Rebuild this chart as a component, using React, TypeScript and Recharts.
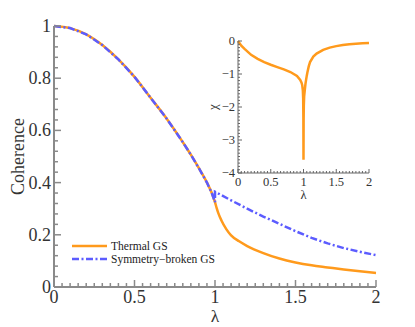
import { LineChart, Line, XAxis, YAxis, Legend } from 'recharts';

// coherence, identical for both ground states below the critical point
const lambdaBelow = [0, 0.1, 0.2, 0.3, 0.4, 0.5, 0.6, 0.7, 0.8, 0.85, 0.9, 0.95, 0.98, 1.0];
const coherenceBelow = [1.0, 0.992, 0.968, 0.927, 0.872, 0.805, 0.725, 0.645, 0.555, 0.507, 0.455, 0.4, 0.36, 0.325];

// above the critical point the two curves split
const lambdaThermalAbove = [1.01, 1.02, 1.04, 1.07, 1.1, 1.15, 1.2, 1.3, 1.4, 1.5, 1.6, 1.7, 1.8, 1.9, 2.0];
const thermalAbove = [0.303, 0.284, 0.255, 0.222, 0.198, 0.175, 0.157, 0.13, 0.109, 0.094, 0.083, 0.075, 0.067, 0.06, 0.054];
const lambdaBrokenAbove = [1.0, 1.1, 1.2, 1.3, 1.4, 1.5, 1.6, 1.7, 1.8, 1.9, 2.0];
const brokenAbove = [0.365, 0.332, 0.3, 0.27, 0.242, 0.214, 0.188, 0.167, 0.149, 0.135, 0.122];

// inset: chi vs lambda
const lambdaChi = [0, 0.05, 0.1, 0.2, 0.3, 0.4, 0.5, 0.6, 0.7, 0.8, 0.9, 0.95, 0.97, 0.98, 0.99, 0.995, 0.998, 1.0,
  1.002, 1.005, 1.01, 1.02, 1.03, 1.04, 1.05, 1.06, 1.08, 1.1, 1.15, 1.2, 1.3, 1.4, 1.5, 1.6, 1.7, 1.8, 1.9, 2.0];
const chiValues = [0, -0.14, -0.24, -0.42, -0.54, -0.64, -0.72, -0.79, -0.86, -0.94, -1.06, -1.18, -1.26, -1.33, -1.5, -1.75, -2.3, -3.6,
  -2.4, -1.95, -1.68, -1.48, -1.3, -1.17, -1.05, -0.95, -0.77, -0.64, -0.47, -0.38, -0.27, -0.2, -0.155, -0.12, -0.095, -0.08, -0.07, -0.06];

const mainXMajor = [0, 0.5, 1, 1.5, 2];
const mainYMajor = [0, 0.2, 0.4, 0.6, 0.8, 1];
const insetXMajor = [0, 0.5, 1, 1.5, 2];
const insetYMajor = [-4, -3, -2, -1, 0];

const seriesNames = ['Thermal GS', 'Symmetry\u2212broken GS'];

const ORANGE = '#ff9a1c';
const BLUE = '#5c5cff';
const BLUE_DASH = '7 2.5 2 2.5';
const FONT = '"Liberation Serif", "DejaVu Serif", serif';

const steps = (from: number, to: number, step: number) => {
  const out: number[] = [];
  const n = Math.round((to - from) / step);
  for (let i = 0; i <= n; i++) out.push(Math.round((from + i * step) * 1000) / 1000);
  return out;
};

const thermalData = [
  ...lambdaBelow.map((x, i) => ({ x, v: coherenceBelow[i] })),
  ...lambdaThermalAbove.map((x, i) => ({ x, v: thermalAbove[i] })),
];
const brokenData = [
  ...lambdaBelow.map((x, i) => ({ x, v: coherenceBelow[i] })),
  ...lambdaBrokenAbove.map((x, i) => ({ x, v: brokenAbove[i] })),
];
const chiData = lambdaChi.map((x, i) => ({ x, chi: chiValues[i] }));

type Side = 'bottom' | 'top' | 'left' | 'right';
interface TickOpts {
  major: number[];
  majorLen: number;
  minorLen: number;
  color: string;
  width: number;
  label?: boolean;
  offset?: number;
  fontSize?: number;
  fmt?: (v: number) => string;
}

const makeTick = (side: Side, o: TickOpts) => (props: any) => {
  const { x, y, payload } = props;
  const v = payload.value;
  const isMajor = o.major.some(m => Math.abs(m - v) < 1e-6);
  const len = isMajor ? o.majorLen : o.minorLen;
  let x2 = x, y2 = y;
  if (side === 'bottom') y2 = y - len;
  else if (side === 'top') y2 = y + len;
  else if (side === 'left') x2 = x + len;
  else x2 = x - len;
  const fs = o.fontSize || 12;
  const txt = o.fmt ? o.fmt(v) : String(v);
  return (
    <g>
      <line x1={x} y1={y} x2={x2} y2={y2} stroke={o.color} strokeWidth={o.width} />
      {o.label && isMajor && side === 'bottom' && (
        <text x={x} y={y + (o.offset || 0)} textAnchor="middle" fontSize={fs} fill="#333" fontFamily={FONT}>{txt}</text>
      )}
      {o.label && isMajor && side === 'left' && (
        <text x={x - (o.offset || 0)} y={y + fs * 0.33} textAnchor="end" fontSize={fs} fill="#333" fontFamily={FONT}>{txt}</text>
      )}
    </g>
  );
};

const renderLegend = () => (
  <svg width={160} height={30} style={{ overflow: 'visible' }}>
    <line x1={0} y1={6} x2={35} y2={6} stroke={ORANGE} strokeWidth={2.5} />
    <text x={39} y={10} fontSize={11.5} fill="#222" fontFamily={FONT}>{seriesNames[0]}</text>
    <line x1={0} y1={19} x2={35} y2={19} stroke={BLUE} strokeWidth={2.5} strokeDasharray={BLUE_DASH} />
    <text x={39} y={23} fontSize={11.5} fill="#222" fontFamily={FONT}>{seriesNames[1]}</text>
  </svg>
);

const AXIS = '#8a8a8a';
const INSET_AXIS = '#666';

export default function App() {
  const mainXTicks = steps(0, 2, 0.05);
  const mainYTicks = steps(0, 1, 0.04);
  const insetXTicks = steps(0, 2, 0.05);
  const insetYTicks = steps(-4, 0, 0.1);

  const mx = { major: mainXMajor, majorLen: 7, minorLen: 4, color: AXIS, width: 1.5 };
  const my = { major: mainYMajor, majorLen: 7, minorLen: 4, color: AXIS, width: 1.5 };
  const ix = { major: insetXMajor, majorLen: 4, minorLen: 2, color: INSET_AXIS, width: 1 };
  const iy = { major: insetYMajor, majorLen: 4, minorLen: 2, color: INSET_AXIS, width: 1 };

  return (
    <div style={{ position: 'absolute', left: 0, top: 0, width: 415, height: 327, background: '#fff', fontFamily: FONT }}>
      <LineChart width={415} height={327} margin={{ top: 26, right: 39, bottom: 10, left: 4 }}>
        <XAxis
          dataKey="x" type="number" domain={[0, 2]} ticks={mainXTicks} interval={0}
          height={30} tickSize={0} tickMargin={0} tickLine={false}
          axisLine={{ stroke: AXIS, strokeWidth: 2 }}
          tick={makeTick('bottom', { ...mx, label: true, offset: 16, fontSize: 18 })}
          label={{ value: '\u03bb', position: 'insideBottom', offset: -5, style: { fontSize: 17.5, fill: '#333', fontFamily: FONT } }}
        />
        <XAxis
          xAxisId="top" orientation="top" dataKey="x" type="number" domain={[0, 2]} ticks={mainXTicks} interval={0}
          height={0} tickSize={0} tickMargin={0} tickLine={false}
          axisLine={{ stroke: AXIS, strokeWidth: 2 }}
          tick={makeTick('top', mx)}
        />
        <YAxis
          type="number" domain={[0, 1]} ticks={mainYTicks} interval={0}
          width={50} tickSize={0} tickMargin={0} tickLine={false}
          axisLine={{ stroke: AXIS, strokeWidth: 2 }}
          tick={makeTick('left', { ...my, label: true, offset: 3, fontSize: 18 })}
          label={{ value: 'Coherence', angle: -90, position: 'insideLeft', offset: 14, style: { textAnchor: 'middle', fontSize: 18, fill: '#333', fontFamily: FONT } }}
        />
        <YAxis
          yAxisId="right" orientation="right" type="number" domain={[0, 1]} ticks={mainYTicks} interval={0}
          width={0} tickSize={0} tickMargin={0} tickLine={false}
          axisLine={{ stroke: AXIS, strokeWidth: 2 }}
          tick={makeTick('right', my)}
        />
        <Line data={thermalData} dataKey="v" name={seriesNames[0]} type="monotone" stroke={ORANGE} strokeWidth={2.5} dot={false} isAnimationActive={false} />
        <Line data={brokenData} dataKey="v" name={seriesNames[1]} type="linear" stroke={BLUE} strokeWidth={2.5} strokeDasharray={BLUE_DASH} dot={false} isAnimationActive={false} />
        <Legend layout="horizontal" verticalAlign="middle" align="center" content={renderLegend}
          wrapperStyle={{ left: 72, top: 240, width: 160, height: 30 }} />
      </LineChart>

      <div style={{ position: 'absolute', left: 200, top: 30 }}>
        <LineChart width={180} height={180} data={chiData} margin={{ top: 11, right: 11, bottom: 10, left: 0 }}>
          <XAxis
            dataKey="x" type="number" domain={[0, 2]} ticks={insetXTicks} interval={0}
            height={27} tickSize={0} tickMargin={0} tickLine={false}
            axisLine={{ stroke: INSET_AXIS, strokeWidth: 1 }}
            tick={makeTick('bottom', { ...ix, label: true, offset: 13, fontSize: 12.5 })}
            label={{ value: '\u03bb', position: 'insideBottom', offset: 1, style: { fontSize: 12.5, fill: '#333', fontFamily: FONT } }}
          />
          <XAxis
            xAxisId="top" orientation="top" dataKey="x" type="number" domain={[0, 2]} ticks={insetXTicks} interval={0}
            height={0} tickSize={0} tickMargin={0} tickLine={false}
            axisLine={{ stroke: INSET_AXIS, strokeWidth: 1 }}
            tick={makeTick('top', ix)}
          />
          <YAxis
            type="number" domain={[-4, 0]} ticks={insetYTicks} interval={0}
            width={38} tickSize={0} tickMargin={0} tickLine={false}
            axisLine={{ stroke: INSET_AXIS, strokeWidth: 1 }}
            tick={makeTick('left', { ...iy, label: true, offset: 3, fontSize: 12.5, fmt: (v: number) => (v < 0 ? '\u2212' + Math.abs(v) : String(v)) })}
            label={{ value: '\u03c7', angle: -90, position: 'insideLeft', offset: 12, style: { textAnchor: 'middle', fontSize: 13, fill: '#333', fontFamily: FONT } }}
          />
          <YAxis
            yAxisId="right" orientation="right" type="number" domain={[-4, 0]} ticks={insetYTicks} interval={0}
            width={0} tickSize={0} tickMargin={0} tickLine={false}
            axisLine={{ stroke: INSET_AXIS, strokeWidth: 1 }}
            tick={makeTick('right', iy)}
          />
          <Line dataKey="chi" type="linear" stroke={ORANGE} strokeWidth={2.5} dot={false} isAnimationActive={false} />
        </LineChart>
      </div>
    </div>
  );
}
